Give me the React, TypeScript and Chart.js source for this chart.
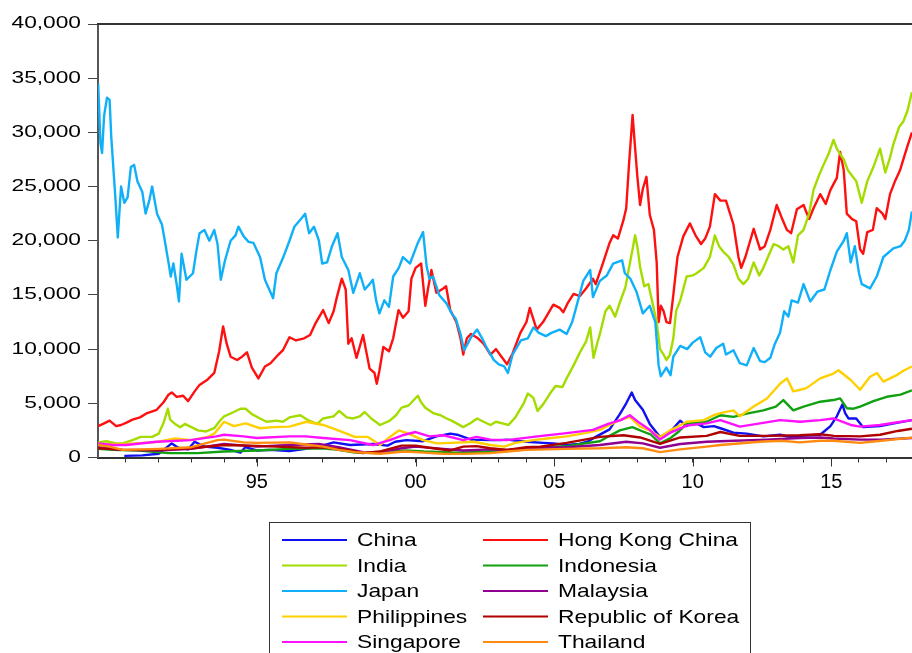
import React, { useEffect, useRef } from "react";
import { Chart, registerables } from "chart.js";

Chart.register(...registerables);

// ---------- data: [year (fractional), index level] ----------
const china: [number, number][] = [
  [1990.95, 150], [1991.5, 200], [1992.0, 350], [1992.4, 1300], [1992.6, 900], [1992.9, 750],
  [1993.1, 1450], [1993.4, 1000], [1993.8, 900], [1994.2, 700], [1994.5, 450], [1994.65, 950],
  [1995.0, 650], [1995.4, 700], [1996.0, 600], [1996.5, 800], [1996.9, 1000], [1997.35, 1400],
  [1997.85, 1150], [1998.55, 1250], [1999.0, 1100], [1999.27, 1450], [1999.67, 1600], [2000.27, 1500],
  [2000.75, 1950], [2001.25, 2200], [2001.5, 2100], [2002.0, 1650], [2002.7, 1600], [2003.07, 1600],
  [2003.3, 1650], [2004.0, 1450], [2004.6, 1350], [2004.97, 1300], [2005.45, 1150], [2005.9, 1250],
  [2006.2, 1450], [2006.5, 1900], [2007.0, 2600], [2007.37, 4000], [2007.6, 5000], [2007.8, 6000],
  [2007.92, 5300], [2008.2, 4400], [2008.45, 3100], [2008.82, 1900], [2009.2, 2400], [2009.55, 3400],
  [2009.78, 2900], [2010.02, 3300], [2010.4, 2800], [2010.76, 2900], [2011.0, 2700], [2011.47, 2300],
  [2011.95, 2200], [2012.55, 1950], [2013.15, 2100], [2013.5, 1900], [2013.88, 2000], [2014.6, 2100],
  [2014.97, 2900], [2015.2, 3800], [2015.4, 4900], [2015.5, 4100], [2015.62, 3600], [2015.9, 3600],
  [2016.15, 2800], [2016.76, 2900], [2017.36, 3200], [2017.91, 3450],
];

const hongKong: [number, number][] = [
  [1990.15, 2900], [1990.3, 3100], [1990.5, 3400], [1990.7, 2900], [1990.85, 3000], [1991.0, 3200],
  [1991.2, 3500], [1991.43, 3700], [1991.65, 4100], [1991.94, 4400], [1992.15, 5100], [1992.3, 5800],
  [1992.4, 6000], [1992.55, 5600], [1992.75, 5700], [1992.9, 5200], [1993.1, 6100], [1993.25, 6700],
  [1993.5, 7200], [1993.7, 7800], [1993.85, 9800], [1993.97, 12100], [1994.08, 10500], [1994.2, 9300],
  [1994.4, 9000], [1994.55, 9300], [1994.7, 9700], [1994.85, 8300], [1995.05, 7300], [1995.25, 8400],
  [1995.42, 8700], [1995.6, 9300], [1995.8, 9900], [1996.0, 11100], [1996.2, 10800], [1996.45, 11000],
  [1996.63, 11300], [1996.8, 12400], [1997.03, 13600], [1997.2, 12400], [1997.35, 13500], [1997.45, 14800],
  [1997.6, 16500], [1997.72, 15500], [1997.8, 10500], [1997.9, 11000], [1998.05, 9200], [1998.25, 11300],
  [1998.45, 8200], [1998.6, 7800], [1998.67, 6800], [1998.75, 8000], [1998.87, 10200], [1999.05, 9800],
  [1999.2, 11000], [1999.39, 13600], [1999.55, 12900], [1999.75, 13500], [1999.85, 16500], [2000.0, 17500],
  [2000.2, 17900], [2000.35, 14000], [2000.45, 15600], [2000.57, 17300], [2000.75, 15200], [2001.0, 15600],
  [2001.1, 15800], [2001.25, 13600], [2001.47, 12500], [2001.62, 11000], [2001.72, 9500], [2001.85, 11000],
  [2002.0, 11400], [2002.25, 11000], [2002.45, 10500], [2002.7, 9500], [2002.9, 10000], [2003.1, 9300],
  [2003.3, 8600], [2003.5, 9600], [2003.78, 11500], [2004.0, 12500], [2004.12, 13800], [2004.37, 11800],
  [2004.6, 12500], [2004.97, 14100], [2005.2, 13800], [2005.33, 13400], [2005.5, 14300], [2005.7, 15100],
  [2005.93, 14900], [2006.15, 15600], [2006.4, 16500], [2006.5, 16000], [2006.77, 18000], [2007.0, 19800],
  [2007.13, 20500], [2007.3, 20200], [2007.5, 21900], [2007.6, 23000], [2007.7, 27000], [2007.83, 31600],
  [2007.92, 28600], [2008.0, 26000], [2008.1, 23300], [2008.2, 24800], [2008.33, 25900], [2008.45, 22400],
  [2008.6, 21000], [2008.7, 18000], [2008.77, 12500], [2008.85, 14000], [2008.95, 13500], [2009.05, 12500],
  [2009.18, 12400], [2009.3, 15000], [2009.45, 18500], [2009.66, 20400], [2009.9, 21600], [2010.1, 20500],
  [2010.3, 19700], [2010.45, 20200], [2010.62, 21300], [2010.8, 24300], [2011.0, 23700], [2011.2, 23700],
  [2011.47, 21500], [2011.65, 18500], [2011.75, 17500], [2011.9, 18500], [2012.2, 21100], [2012.43, 19200],
  [2012.6, 19500], [2012.8, 21000], [2013.03, 23300], [2013.2, 22200], [2013.4, 21000], [2013.55, 20700],
  [2013.76, 22900], [2014.0, 23300], [2014.2, 22000], [2014.36, 23000], [2014.6, 24300], [2014.8, 23400],
  [2014.97, 24700], [2015.2, 25800], [2015.32, 28200], [2015.45, 26500], [2015.56, 22500], [2015.75, 22000],
  [2015.9, 21800], [2016.04, 19200], [2016.15, 18800], [2016.3, 20800], [2016.5, 21000], [2016.64, 23000],
  [2016.85, 22500], [2016.95, 22000], [2017.12, 24300], [2017.3, 25500], [2017.48, 26500], [2017.72, 28500],
  [2017.91, 30000],
];

const india: [number, number][] = [
  [1990.15, 1400], [1990.4, 1500], [1990.7, 1300], [1990.9, 1300], [1991.2, 1600], [1991.45, 1900],
  [1991.8, 1900], [1992.0, 2200], [1992.15, 3200], [1992.28, 4500], [1992.35, 3500], [1992.5, 3100],
  [1992.66, 2800], [1992.8, 3100], [1993.0, 2800], [1993.2, 2500], [1993.45, 2400], [1993.7, 2700],
  [1993.85, 3300], [1994.0, 3800], [1994.3, 4200], [1994.5, 4500], [1994.66, 4500], [1994.85, 4000],
  [1995.1, 3600], [1995.3, 3300], [1995.6, 3400], [1995.8, 3300], [1996.0, 3700], [1996.33, 3900],
  [1996.6, 3400], [1996.85, 3100], [1997.03, 3600], [1997.35, 3800], [1997.52, 4300], [1997.75, 3700],
  [1997.95, 3600], [1998.15, 3800], [1998.3, 4200], [1998.5, 3600], [1998.77, 3000], [1999.08, 3400],
  [1999.3, 3900], [1999.5, 4600], [1999.75, 4800], [2000.08, 5700], [2000.2, 5100], [2000.35, 4600],
  [2000.63, 4100], [2000.9, 3900], [2001.12, 3600], [2001.3, 3400], [2001.72, 2800], [2002.0, 3200],
  [2002.22, 3600], [2002.45, 3300], [2002.7, 3000], [2002.9, 3300], [2003.2, 3100], [2003.35, 3000],
  [2003.6, 3700], [2003.9, 5000], [2004.05, 5900], [2004.25, 5500], [2004.4, 4300], [2004.6, 4900],
  [2004.85, 5900], [2005.05, 6600], [2005.3, 6500], [2005.45, 7300], [2005.7, 8500], [2005.93, 9700],
  [2006.15, 10700], [2006.3, 12000], [2006.42, 9200], [2006.55, 10500], [2006.65, 11400], [2006.85, 13500],
  [2007.0, 14000], [2007.2, 13000], [2007.37, 14300], [2007.57, 15700], [2007.7, 17500], [2007.85, 19500],
  [2007.92, 20500], [2008.0, 19500], [2008.1, 17600], [2008.25, 15800], [2008.4, 16000], [2008.57, 14000],
  [2008.7, 12500], [2008.82, 10000], [2008.95, 9500], [2009.05, 9000], [2009.18, 9500], [2009.3, 11000],
  [2009.4, 13500], [2009.55, 14500], [2009.78, 16700], [2010.0, 16800], [2010.14, 17000], [2010.4, 17500],
  [2010.62, 18500], [2010.8, 20500], [2010.95, 19500], [2011.1, 19000], [2011.3, 18500], [2011.47, 17800],
  [2011.65, 16500], [2011.83, 16000], [2012.0, 16500], [2012.2, 18000], [2012.4, 16800], [2012.55, 17500],
  [2012.75, 18700], [2012.92, 19700], [2013.1, 19500], [2013.27, 19200], [2013.45, 19500], [2013.63, 18000],
  [2013.8, 20500], [2014.0, 21000], [2014.2, 22500], [2014.36, 24700], [2014.55, 26000], [2014.72, 27000],
  [2014.9, 28000], [2015.08, 29300], [2015.2, 28500], [2015.32, 28000], [2015.45, 27500], [2015.6, 26500],
  [2015.75, 26000], [2015.9, 25500], [2016.1, 23500], [2016.3, 25500], [2016.52, 26800], [2016.76, 28500],
  [2016.95, 26300], [2017.1, 27500], [2017.24, 28900], [2017.45, 30500], [2017.6, 31000], [2017.75, 32000],
  [2017.91, 33700],
];

const indonesia: [number, number][] = [
  [1990.15, 800], [1990.6, 700], [1991.4, 650], [1992.3, 400], [1993.2, 400], [1994.0, 550],
  [1995.0, 650], [1996.0, 800], [1997.0, 850], [1997.5, 700], [1998.0, 450], [1998.7, 400],
  [1999.6, 650], [2000.3, 550], [2001.5, 450], [2002.7, 550], [2003.3, 600], [2004.0, 750],
  [2004.8, 1000], [2005.45, 1050], [2006.1, 1300], [2006.65, 1500], [2007.0, 2000], [2007.37, 2500],
  [2007.82, 2800], [2008.2, 2400], [2008.5, 2100], [2008.82, 1300], [2009.2, 1800], [2009.5, 2400],
  [2009.78, 3100], [2010.5, 3300], [2011.0, 3900], [2011.47, 3750], [2011.95, 4050], [2012.55, 4350],
  [2013.0, 4700], [2013.27, 5300], [2013.63, 4350], [2014.0, 4700], [2014.6, 5150], [2015.08, 5300],
  [2015.32, 5450], [2015.56, 4550], [2015.8, 4500], [2016.04, 4700], [2016.52, 5200], [2017.0, 5600],
  [2017.5, 5800], [2017.91, 6200],
];

const japan: [number, number][] = [
  [1990.15, 34500], [1990.22, 29000], [1990.27, 28100], [1990.33, 31500], [1990.42, 33200], [1990.5, 33000],
  [1990.55, 29600], [1990.68, 23800], [1990.75, 20300], [1990.85, 25000], [1990.95, 23500], [1991.05, 24000],
  [1991.15, 26800], [1991.25, 27000], [1991.35, 25500], [1991.5, 24500], [1991.6, 22500], [1991.72, 23800],
  [1991.8, 25000], [1991.95, 22500], [1992.1, 21500], [1992.2, 19800], [1992.3, 18000], [1992.37, 16700],
  [1992.45, 17900], [1992.55, 16000], [1992.62, 14400], [1992.7, 18800], [1992.85, 16400], [1993.05, 17000],
  [1993.15, 19000], [1993.25, 20700], [1993.4, 21000], [1993.55, 20000], [1993.7, 21000], [1993.8, 19700],
  [1993.9, 16400], [1994.03, 18200], [1994.2, 20000], [1994.35, 20500], [1994.44, 21300], [1994.6, 20400],
  [1994.75, 19900], [1994.9, 19800], [1995.1, 18500], [1995.25, 16400], [1995.5, 14700], [1995.6, 17000],
  [1995.8, 18400], [1996.0, 20000], [1996.15, 21300], [1996.35, 22000], [1996.48, 22500], [1996.6, 20700],
  [1996.75, 21300], [1996.9, 20000], [1997.0, 17900], [1997.15, 18000], [1997.3, 19500], [1997.47, 20700],
  [1997.6, 18500], [1997.8, 17300], [1997.95, 15200], [1998.15, 17000], [1998.3, 15500], [1998.45, 16000],
  [1998.55, 16400], [1998.65, 14500], [1998.75, 13300], [1998.9, 14500], [1999.05, 13900], [1999.2, 16700],
  [1999.4, 17500], [1999.55, 18500], [1999.8, 17900], [2000.08, 19800], [2000.27, 20800], [2000.4, 17600],
  [2000.5, 16500], [2000.63, 16700], [2000.85, 15000], [2001.12, 14200], [2001.3, 13300], [2001.45, 12800],
  [2001.62, 11400], [2001.75, 9900], [2001.9, 10600], [2002.0, 11100], [2002.22, 11800], [2002.4, 11000],
  [2002.55, 10200], [2002.82, 9000], [2003.0, 8600], [2003.2, 8400], [2003.33, 7800], [2003.5, 9500],
  [2003.8, 10800], [2004.05, 11000], [2004.25, 12000], [2004.45, 11500], [2004.7, 11200], [2004.9, 11500],
  [2005.2, 11800], [2005.45, 11400], [2005.65, 12500], [2005.8, 13900], [2006.05, 16300], [2006.3, 17300],
  [2006.4, 14800], [2006.65, 16300], [2006.9, 16800], [2007.13, 17900], [2007.45, 18200], [2007.55, 17000],
  [2007.75, 16500], [2007.97, 15300], [2008.2, 13300], [2008.45, 14000], [2008.65, 12500], [2008.77, 8500],
  [2008.85, 7500], [2009.05, 8300], [2009.2, 7600], [2009.3, 9300], [2009.55, 10300], [2009.8, 10000],
  [2010.0, 10600], [2010.27, 11100], [2010.45, 9700], [2010.63, 9300], [2010.85, 10100], [2011.1, 10500],
  [2011.2, 9500], [2011.47, 9900], [2011.7, 8700], [2011.95, 8500], [2012.2, 10100], [2012.43, 8900],
  [2012.6, 8800], [2012.8, 9200], [2012.95, 10400], [2013.15, 11500], [2013.3, 13500], [2013.45, 13000],
  [2013.57, 14500], [2013.8, 14300], [2014.0, 16000], [2014.24, 14400], [2014.5, 15300], [2014.75, 15500],
  [2014.97, 17300], [2015.2, 19000], [2015.45, 20000], [2015.56, 20700], [2015.7, 18000], [2015.85, 19500],
  [2016.0, 17000], [2016.1, 16000], [2016.4, 15600], [2016.64, 16700], [2016.88, 18500], [2017.24, 19300],
  [2017.5, 19500], [2017.65, 20000], [2017.8, 21000], [2017.91, 22700],
];

const malaysia: [number, number][] = [
  [1990.15, 950], [1990.9, 700], [1992.0, 650], [1993.0, 800], [1994.0, 1250], [1995.0, 1000],
  [1996.0, 1150], [1996.9, 1250], [1997.5, 950], [1998.25, 500], [1998.7, 450], [1999.5, 850],
  [2000.0, 1000], [2001.0, 800], [2001.72, 650], [2002.7, 750], [2003.3, 700], [2004.25, 900],
  [2005.45, 950], [2006.65, 1150], [2007.6, 1450], [2008.2, 1300], [2008.82, 900], [2009.55, 1250],
  [2010.5, 1450], [2011.0, 1500], [2012.66, 1650], [2013.86, 1800], [2014.6, 1850], [2015.08, 1750],
  [2016.04, 1650], [2016.8, 1650], [2017.91, 1800],
];

const philippines: [number, number][] = [
  [1990.15, 1250], [1990.6, 1200], [1991.0, 1250], [1991.5, 1350], [1992.0, 1450], [1992.5, 1750],
  [1993.0, 1600], [1993.5, 1900], [1993.7, 2200], [1994.0, 3300], [1994.3, 2900], [1994.66, 3150],
  [1995.1, 2700], [1995.5, 2800], [1996.0, 2850], [1996.52, 3300], [1997.03, 3000], [1997.45, 2550],
  [1998.0, 1900], [1998.4, 1900], [1998.77, 1150], [1999.08, 1900], [1999.4, 2500], [1999.7, 2250],
  [2000.27, 1600], [2000.77, 1300], [2001.3, 1350], [2002.1, 1450], [2002.7, 1150], [2003.2, 1000],
  [2003.6, 1350], [2004.25, 1600], [2004.9, 1800], [2005.45, 1950], [2006.1, 2250], [2006.65, 2550],
  [2007.0, 3000], [2007.37, 3450], [2007.73, 3750], [2008.1, 2850], [2008.45, 2500], [2008.82, 1900],
  [2009.18, 2500], [2009.5, 2900], [2009.78, 3300], [2010.4, 3450], [2010.75, 3900], [2011.0, 4100],
  [2011.47, 4350], [2011.7, 3800], [2012.2, 4700], [2012.68, 5450], [2013.15, 6800], [2013.4, 7300],
  [2013.63, 6100], [2013.88, 6250], [2014.1, 6400], [2014.6, 7300], [2015.08, 7750], [2015.26, 8050],
  [2015.7, 7150], [2016.04, 6250], [2016.4, 7450], [2016.65, 7800], [2016.88, 7000], [2017.36, 7600],
  [2017.6, 8000], [2017.91, 8400],
];

const korea: [number, number][] = [
  [1990.15, 850], [1990.9, 700], [1991.94, 700], [1992.97, 850], [1994.0, 1150], [1994.8, 1100],
  [1995.6, 1000], [1996.5, 900], [1997.03, 950], [1997.85, 650], [1998.25, 400], [1998.75, 550],
  [1999.5, 1100], [2000.0, 1100], [2000.5, 900], [2001.25, 650], [2001.72, 1000], [2002.2, 1050],
  [2002.7, 850], [2003.3, 700], [2004.0, 950], [2004.5, 1000], [2005.45, 1350], [2006.65, 1900],
  [2007.5, 2050], [2008.1, 1850], [2008.82, 1250], [2009.55, 1850], [2010.5, 2000], [2011.0, 2350],
  [2011.7, 2000], [2012.66, 2000], [2013.86, 2050], [2014.6, 2150], [2015.1, 2000], [2016.04, 1950],
  [2016.76, 2100], [2017.4, 2450], [2017.91, 2650],
];

const singapore: [number, number][] = [
  [1990.15, 1300], [1990.6, 1150], [1991.0, 1150], [1991.94, 1450], [1992.97, 1600], [1993.77, 1950],
  [1994.0, 2100], [1994.6, 1950], [1995.0, 1800], [1996.0, 1950], [1996.5, 1950], [1997.03, 1800],
  [1997.85, 1600], [1998.55, 1150], [1999.08, 1600], [1999.6, 2100], [2000.0, 2350], [2000.5, 1950],
  [2001.0, 2050], [2001.72, 1600], [2002.2, 1900], [2002.7, 1650], [2003.3, 1600], [2004.25, 1900],
  [2005.45, 2250], [2006.4, 2550], [2007.0, 3150], [2007.4, 3450], [2007.73, 3900], [2008.1, 3150],
  [2008.45, 2550], [2008.82, 1650], [2009.2, 2300], [2009.78, 2950], [2010.5, 3150], [2011.0, 3450],
  [2011.7, 2850], [2012.43, 3150], [2013.15, 3450], [2013.88, 3300], [2014.6, 3450], [2015.08, 3600],
  [2015.7, 3000], [2016.04, 2850], [2016.76, 3000], [2017.4, 3250], [2017.91, 3450],
];

const thailand: [number, number][] = [
  [1990.15, 1150], [1990.5, 1000], [1990.9, 700], [1991.5, 750], [1992.0, 800], [1993.0, 950],
  [1993.8, 1600], [1994.0, 1650], [1994.6, 1400], [1995.0, 1350], [1996.0, 1400], [1996.5, 1200],
  [1997.03, 1000], [1997.5, 700], [1998.0, 500], [1998.77, 350], [1999.6, 550], [2000.3, 450],
  [2001.0, 350], [2001.72, 330], [2002.7, 400], [2003.3, 550], [2004.0, 700], [2005.45, 800],
  [2006.65, 850], [2007.6, 950], [2008.2, 850], [2008.82, 500], [2009.55, 750], [2010.5, 1000],
  [2011.0, 1150], [2012.4, 1450], [2013.2, 1550], [2013.86, 1400], [2014.6, 1550], [2015.08, 1550],
  [2016.04, 1350], [2016.8, 1550], [2017.91, 1830],
];

const seriesNames = [
  "China", "Hong Kong China", "India", "Indonesia", "Japan",
  "Malaysia", "Philippines", "Republic of Korea", "Singapore", "Thailand",
];
const seriesData = [china, hongKong, india, indonesia, japan, malaysia, philippines, korea, singapore, thailand];
const seriesColors = [
  "#1010F0", "#FF1010", "#A4DC00", "#10A010", "#10B0F8",
  "#900090", "#FFD000", "#B00000", "#FF10FF", "#FF8C10",
];

const yearTicks = [
  1991, 1992, 1993, 1994, 1995, 1996, 1997, 1998, 1999, 2000, 2001, 2002, 2003, 2004,
  2005, 2006, 2007, 2008, 2009, 2010, 2011, 2012, 2013, 2014, 2015, 2016, 2017,
];
const majorYears = [1995, 2000, 2005, 2010, 2015];
const startYear = 1990.145;
const endYear = 2017.913;

// observation-based axis (more observations per year before 2000)
function obsPerYear(y: number) {
  return y < 1999 ? 308 : y === 1999 ? 264 : 261;
}
function pos(t: number) {
  const y = Math.floor(t);
  let p = 0;
  for (let k = 1990; k < y; k++) p += obsPerYear(k);
  return p + (t - y) * obsPerYear(y);
}

const FONT = "'Liberation Sans', Arial, Helvetica, sans-serif";

const framePlugin = {
  id: "frameAndLegend",
  beforeDraw(chart: any) {
    if (!chart.$patched) {
      chart.$patched = true;
      const ys = chart.scales.y;
      const orig = ys.drawLabels;
      ys.drawLabels = function (area: any) {
        const c = this.ctx;
        const ax = this.right - this.options.grid.tickLength - this.options.ticks.padding;
        c.save();
        c.translate(ax, 0);
        c.scale(1.42, 1);
        c.translate(-ax, 0);
        orig.call(this, area);
        c.restore();
      };
    }
  },
  afterDraw(chart: any) {
    const { ctx, chartArea: a } = chart;
    const xs = chart.scales.x;
    ctx.save();
    // top frame line
    ctx.strokeStyle = "#333";
    ctx.lineWidth = 2;
    ctx.beginPath();
    ctx.moveTo(a.left - 1, a.top);
    ctx.lineTo(a.right, a.top);
    ctx.stroke();
    // longer major ticks
    ctx.lineWidth = 1;
    ctx.beginPath();
    majorYears.forEach((yr) => {
      const x = Math.round(xs.getPixelForValue(pos(yr))) + 0.5;
      ctx.moveTo(x, a.bottom);
      ctx.lineTo(x, a.bottom + 9);
    });
    ctx.stroke();

    // legend
    const bx = 269.5, by = 522.5, bw = 481, bh = 200;
    ctx.strokeStyle = "#333";
    ctx.lineWidth = 1;
    ctx.strokeRect(bx, by, bw, bh);
    const cols = [
      { l0: 282, l1: 347, tx: 357 },
      { l0: 483, l1: 548, tx: 558 },
    ];
    ctx.font = `19px ${FONT}`;
    ctx.textBaseline = "middle";
    ctx.fillStyle = "#000";
    seriesNames.forEach((name, i) => {
      const r = Math.floor(i / 2);
      const c = cols[i % 2];
      const cy = 540 + r * 25.5;
      ctx.strokeStyle = seriesColors[i];
      ctx.lineWidth = 2;
      ctx.beginPath();
      ctx.moveTo(c.l0, cy);
      ctx.lineTo(c.l1, cy);
      ctx.stroke();
      ctx.save();
      ctx.translate(c.tx, cy + 1);
      ctx.scale(1.2, 1);
      ctx.fillText(name, 0, 0);
      ctx.restore();
    });
    ctx.restore();
  },
};

export default function App() {
  const ref = useRef<HTMLCanvasElement | null>(null);
  useEffect(() => {
    if (!ref.current) return;
    const chart = new Chart(ref.current, {
      type: "line",
      data: {
        datasets: seriesNames.map((name, i) => ({
          label: name,
          data: seriesData[i].map(([t, v]) => ({ x: pos(t), y: v })),
          borderColor: seriesColors[i],
          backgroundColor: seriesColors[i],
          borderWidth: 2.4,
          borderJoinStyle: "round" as const,
          pointRadius: 0,
          tension: 0,
          fill: false,
          order: seriesNames.length - i,
        })),
      },
      options: {
        animation: false,
        responsive: true,
        maintainAspectRatio: false,
        layout: { padding: { top: 24, left: 0, right: 0, bottom: 0 } },
        plugins: { legend: { display: false }, tooltip: { enabled: false } },
        scales: {
          x: {
            type: "linear",
            min: pos(startYear),
            max: pos(endYear),
            afterBuildTicks: (scale: any) => {
              scale.ticks = yearTicks.map((y) => ({ value: pos(y) }));
            },
            afterFit: (scale: any) => {
              scale.height = 195.5;
            },
            ticks: {
              autoSkip: false,
              maxRotation: 0,
              padding: 8,
              color: "#000",
              font: { family: FONT, size: 20 },
              callback: (_v: any, idx: number) => {
                const yr = yearTicks[idx];
                return yr % 5 === 0 ? String(yr).slice(2) : "";
              },
            },
            grid: { display: true, drawOnChartArea: false, drawTicks: true, tickLength: 5, color: "#333" },
            border: { display: true, color: "#333", width: 2 },
          },
          y: {
            min: 0,
            max: 40000,
            afterFit: (scale: any) => {
              scale.width = 98;
            },
            ticks: {
              stepSize: 5000,
              padding: 7,
              color: "#000",
              font: { family: FONT, size: 16 },
              callback: (v: any) => Number(v).toLocaleString("en-US"),
            },
            grid: { display: true, drawOnChartArea: false, drawTicks: true, tickLength: 10, color: "#444" },
            border: { display: true, color: "#555", width: 2 },
          },
        },
      },
      plugins: [framePlugin],
    });
    return () => chart.destroy();
  }, []);
  return (
    <div style={{ position: "absolute", left: 0, top: 0, width: 912, height: 653, background: "#fff" }}>
      <canvas ref={ref} />
    </div>
  );
}
